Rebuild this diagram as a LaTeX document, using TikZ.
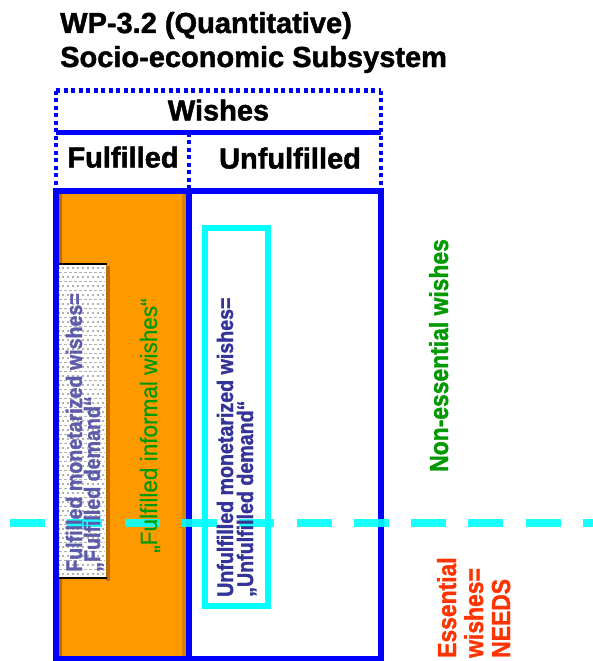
\documentclass[tikz,border=0pt]{standalone}
\usepackage{fontspec}
\setmainfont{Liberation Sans}[BoldFeatures={FakeBold=1.6}]
\newfontfamily\rotbf[FakeStretch=0.88,FakeBold=1.4]{Liberation Sans Bold}
\newfontfamily\rotreg[FakeStretch=0.96,FakeBold=0.6]{Liberation Sans}
\definecolor{bl}{HTML}{0000FF}
\definecolor{org}{HTML}{FF9900}
\definecolor{cy}{HTML}{00FFFF}
\definecolor{navy}{HTML}{333399}
\definecolor{navyl}{HTML}{5C5CAA}
\definecolor{grn}{HTML}{009900}
\definecolor{redo}{HTML}{FF3300}
\definecolor{brn}{HTML}{C26A00}
\definecolor{brnb}{HTML}{DB8300}
\begin{document}
\begin{tikzpicture}[x=1pt,y=-1pt,
  solidline/.style={draw=bl,line width=6pt},
  dotline/.style={draw=bl,line width=4.5pt,dash pattern=on 4pt off 3.5pt},
  titletext/.style={font=\fontsize{29}{34}\selectfont\bfseries,inner sep=0,anchor=base west},
  hdr/.style={font=\fontsize{29}{34}\selectfont\bfseries,inner sep=0,anchor=base},
  vtext/.style={rotate=90,anchor=base west,inner sep=0},
  monet/.style={vtext,font=\rotbf\fontsize{22.3}{26}\selectfont},
  bigv/.style={vtext,font=\rotbf\fontsize{26}{30}\selectfont}]
\useasboundingbox (0,0) rectangle (593,661);
\fill[white] (0,0) rectangle (593,661);

% orange fulfilled area
\fill[org] (56,190) rectangle (189,659);
\fill[brn] (58.5,193) rectangle (62,657);
\fill[brnb] (182,193) rectangle (186,657);

% fulfilled monetarized box
\fill[brn] (106,266) rectangle (109.5,580.5);
\fill[white] (58,264) rectangle (106,578);
\foreach \yy [count=\i] in {268,272.5,...,576}{
  \pgfmathsetmacro{\ph}{mod(\i,2)*2.2}
  \draw[gray!60,line width=1.2pt,dash pattern=on 2.5pt off 2.5pt,dash phase=\ph pt] (59,\yy) -- (105,\yy);
}
\draw[black,line width=2pt] (56,264) -- (107,264);
\draw[black,line width=2pt] (56,578) -- (107,578);

% unfulfilled monetarized box
\draw[cy,line width=6pt] (204.5,227.5) rectangle (268,606);

% blue frame
\draw[solidline] (56,190.5) rectangle (381,658.5);
\draw[solidline] (189,190.5) -- (189,658.5);
\draw[draw=bl,line width=4.5pt] (56,132.5) -- (381,132.5);
\draw[dotline] (56,90.5) -- (381,90.5);
\draw[dotline] (56,90.5) -- (56,190);
\draw[dotline] (381,90.5) -- (381,190);
\draw[dotline] (189,132.5) -- (189,190);

% essential / non-essential divider
\draw[cy,line width=8pt,dash pattern=on 35pt off 22.3pt,opacity=0.9] (10,523) -- (593,523);

% titles
\node[titletext] (title1) at (60,33) {WP-3.2 (Quantitative)};
\node[titletext] (title2) at (60,67) {Socio-economic Subsystem};
\node[hdr] (wishes) at (218.5,120.5) {Wishes};
\node[hdr] (fulf) at (123,167.5) {Fulfilled};
\node[hdr] (unfulf) at (290,168.5) {Unfulfilled};

% rotated texts
\node[monet,text=navyl] (fm1) at (82,572) {Fulfilled monetarized wishes=};
\node[monet,text=navyl] (fm2) at (100,572) {„Fulfilled demand“};
\node[vtext,font=\rotreg\fontsize{23.5}{28}\selectfont,text=grn] (finf) at (157,553) {„Fulfilled informal wishes“};
\node[monet,text=navy] (um1) at (233,597) {Unfulfilled monetarized wishes=};
\node[monet,text=navy] (um2) at (253,597) {„Unfulfilled demand“};
\node[bigv,text=grn] (nonel) at (448,472) {Non-essential wishes};
\node[bigv,text=redo] (ess1) at (456,658) {Essential};
\node[bigv,text=redo] (ess2) at (483,658) {wishes=};
\node[bigv,text=redo] (ess3) at (510,658) {NEEDS};
\end{tikzpicture}
\end{document}
